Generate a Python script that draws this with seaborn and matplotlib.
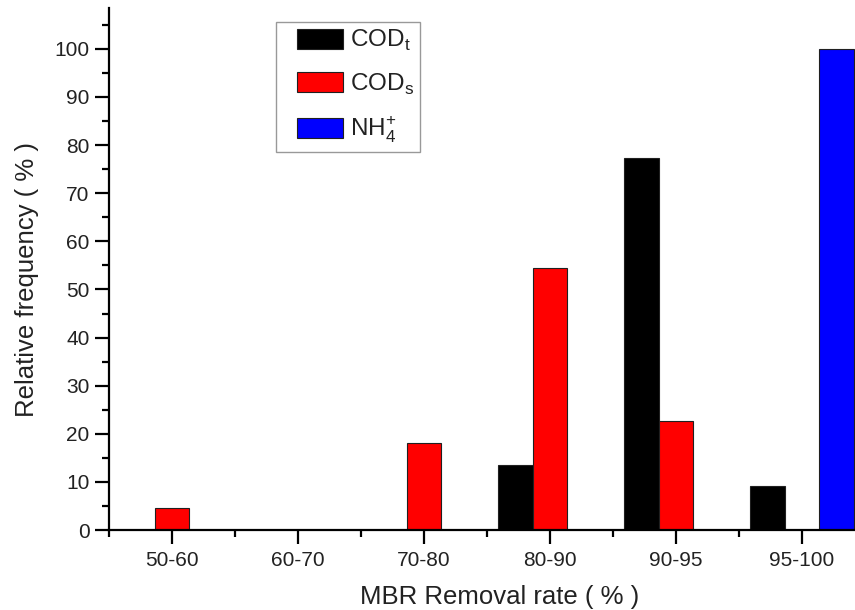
import matplotlib
matplotlib.use("Agg")
import matplotlib.pyplot as plt
import seaborn as sns
import pandas as pd
from matplotlib.patches import Patch, Rectangle
from matplotlib.legend_handler import HandlerPatch
from matplotlib.ticker import MultipleLocator, FixedLocator

# Removal-rate classes and relative frequency (%) of each parameter
categories = ["50-60", "60-70", "70-80", "80-90", "90-95", "95-100"]
cod_t = [0.0, 0.0, 0.0, 13.6, 77.3, 9.1]
cod_s = [4.5, 0.0, 18.2, 54.5, 22.7, 0.0]
nh4 = [0.0, 0.0, 0.0, 0.0, 0.0, 100.0]

series_names = ["CODt", "CODs", "NH4"]
series_labels = [r"COD$_\mathregular{t}$", r"COD$_\mathregular{s}$",
                 r"NH$_\mathregular{4}^\mathregular{+}$"]
series_colors = ["#000000", "#FF0000", "#0000FF"]
text_color = "#222222"

sns.set_style("ticks")
plt.rcParams["font.family"] = ["Liberation Sans", "DejaVu Sans"]
plt.rcParams["mathtext.fontset"] = "custom"
plt.rcParams["mathtext.rm"] = "Liberation Sans"
plt.rcParams["text.color"] = text_color
plt.rcParams["axes.labelcolor"] = text_color
plt.rcParams["xtick.labelcolor"] = text_color
plt.rcParams["ytick.labelcolor"] = text_color

rows = []
for name, vals in zip(series_names, [cod_t, cod_s, nh4]):
    for cat, v in zip(categories, vals):
        rows.append({"rate": cat, "series": name, "freq": v})
df = pd.DataFrame(rows)
df = df[df["freq"] > 0]

fig = plt.figure(figsize=(8.55, 6.10), dpi=100)
ax = fig.add_axes([0.1275, 0.131, 0.8725, 0.856])

sns.barplot(data=df, x="rate", y="freq", hue="series", order=categories,
            hue_order=series_names, palette=series_colors, width=0.82,
            edgecolor="#202020", linewidth=0.8, saturation=1, ax=ax,
            legend=False)

ax.set_xlim(-0.5, 5.42)
ax.set_ylim(0, 108.5)
ax.yaxis.set_major_locator(MultipleLocator(10))
ax.yaxis.set_minor_locator(MultipleLocator(5))
ax.xaxis.set_minor_locator(FixedLocator([i + 0.5 for i in range(-1, 6)]))

for side in ["top", "right"]:
    ax.spines[side].set_visible(False)
for side in ["left", "bottom"]:
    ax.spines[side].set_linewidth(1.6)
    ax.spines[side].set_color("black")

ax.tick_params(axis="both", which="major", direction="out", length=10, width=1.6,
               labelsize=15, pad=4, color="black")
ax.tick_params(axis="both", which="minor", direction="out", length=5, width=1.6,
               color="black")
ax.tick_params(axis="x", which="major", pad=5)

ax.set_xlabel("MBR Removal rate ( % )", fontsize=18.5)
ax.set_ylabel("Relative frequency ( % )", fontsize=18.5)
ax.xaxis.set_label_coords(0.523, -0.128)
ax.xaxis.label.set_va("center")
ax.yaxis.set_label_coords(-0.11, 0.479)
ax.yaxis.label.set_va("center")


# Legend swatch drawn with a left inset inside its handle box
def inset_swatch(legend, orig_handle, xdescent, ydescent, width, height, fontsize):
    inset = 10.5
    return Rectangle((-xdescent + inset, -ydescent), width - inset, height)


handles = [Patch(facecolor=c, edgecolor="#202020", linewidth=0.8) for c in series_colors]
leg = ax.legend(handles, series_labels, loc="upper left",
                bbox_to_anchor=((276 - 109) / (855 - 109), (530 - 22) / (530 - 8)),
                fontsize=17.5, frameon=True, fancybox=False, edgecolor="#808080",
                handlelength=2.49, handleheight=0.9, handletextpad=0.3,
                labelspacing=0.75, borderpad=0.25, borderaxespad=0,
                handler_map={Patch: HandlerPatch(patch_func=inset_swatch)})
leg.get_frame().set_linewidth(1.0)

fig.savefig("out.png", dpi=100)
